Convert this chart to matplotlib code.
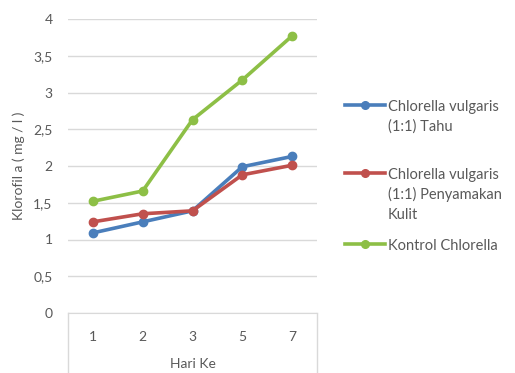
import matplotlib
matplotlib.use("Agg")
import matplotlib.pyplot as plt
from matplotlib.lines import Line2D

days = ["1", "2", "3", "5", "7"]
tahu = [1.09, 1.24, 1.39, 1.99, 2.13]
penyamakan = [1.24, 1.35, 1.39, 1.88, 2.01]
kontrol = [1.52, 1.66, 2.63, 3.17, 3.77]

labels = [
    ["Chlorella vulgaris", "(1:1) Tahu"],
    ["Chlorella vulgaris", "(1:1) Penyamakan", "Kulit"],
    ["Kontrol Chlorella"],
]
colors = ["#4a7ebb", "#c0504d", "#8dbf46"]
y_ticks = [0, 0.5, 1, 1.5, 2, 2.5, 3, 3.5, 4]
y_ticklabels = ["0", "0,5", "1", "1,5", "2", "2,5", "3", "3,5", "4"]

plt.rcParams["font.family"] = ["Lato", "DejaVu Sans"]
text_color = "#595959"
grid_color = "#d9d9d9"

W, H = 515, 373
fig = plt.figure(figsize=(W / 100, H / 100), dpi=100)
ax = fig.add_axes([68 / W, 1 - 313 / H, 249 / W, 294 / H])

x = range(len(days))
for series, col in zip([tahu, penyamakan, kontrol], colors):
    ax.plot(x, series, color=col, lw=2.6, marker="o", ms=6,
            solid_capstyle="round", zorder=3)

ax.set_xlim(-0.5, len(days) - 0.5)
ax.set_ylim(0, 4)
ax.set_yticks(y_ticks)
ax.set_yticklabels(y_ticklabels)
ax.set_xticks(list(x))
ax.set_xticklabels(days)
ax.yaxis.grid(True, color=grid_color, lw=1)
ax.set_axisbelow(True)
for s in ["top", "right", "left"]:
    ax.spines[s].set_visible(False)
ax.spines["bottom"].set_color(grid_color)
ax.tick_params(axis="y", length=0, pad=11, labelsize=10, labelcolor=text_color)
ax.tick_params(axis="x", length=0, pad=13, labelsize=10, labelcolor=text_color)

# table-style frame below the category axis
for xa in (0.0, 1.0):
    ax.add_line(Line2D([xa, xa], [0, -0.25], transform=ax.transAxes,
                       color=grid_color, lw=1, clip_on=False))

ax.set_xlabel("Hari Ke", fontsize=10, color=text_color, labelpad=11)
ax.set_ylabel("Klorofil a ( mg / l )", fontsize=10, color=text_color, labelpad=6)

# legend: handle aligned with the first line of each label
entry_y = [105, 173, 244]
line_gap = 20
for lines, col, y0 in zip(labels, colors, entry_y):
    fy = 1 - y0 / H
    fig.add_artist(Line2D([345 / W, 385 / W], [fy, fy], color=col, lw=2.6,
                          transform=fig.transFigure))
    fig.add_artist(Line2D([365 / W], [fy], color=col, marker="o", ms=5.5,
                          transform=fig.transFigure))
    for i, t in enumerate(lines):
        fig.text(388 / W, 1 - (y0 + i * line_gap) / H, t, fontsize=10.5,
                 color=text_color, va="center_baseline", ha="left")

fig.savefig("out.png", dpi=100)
